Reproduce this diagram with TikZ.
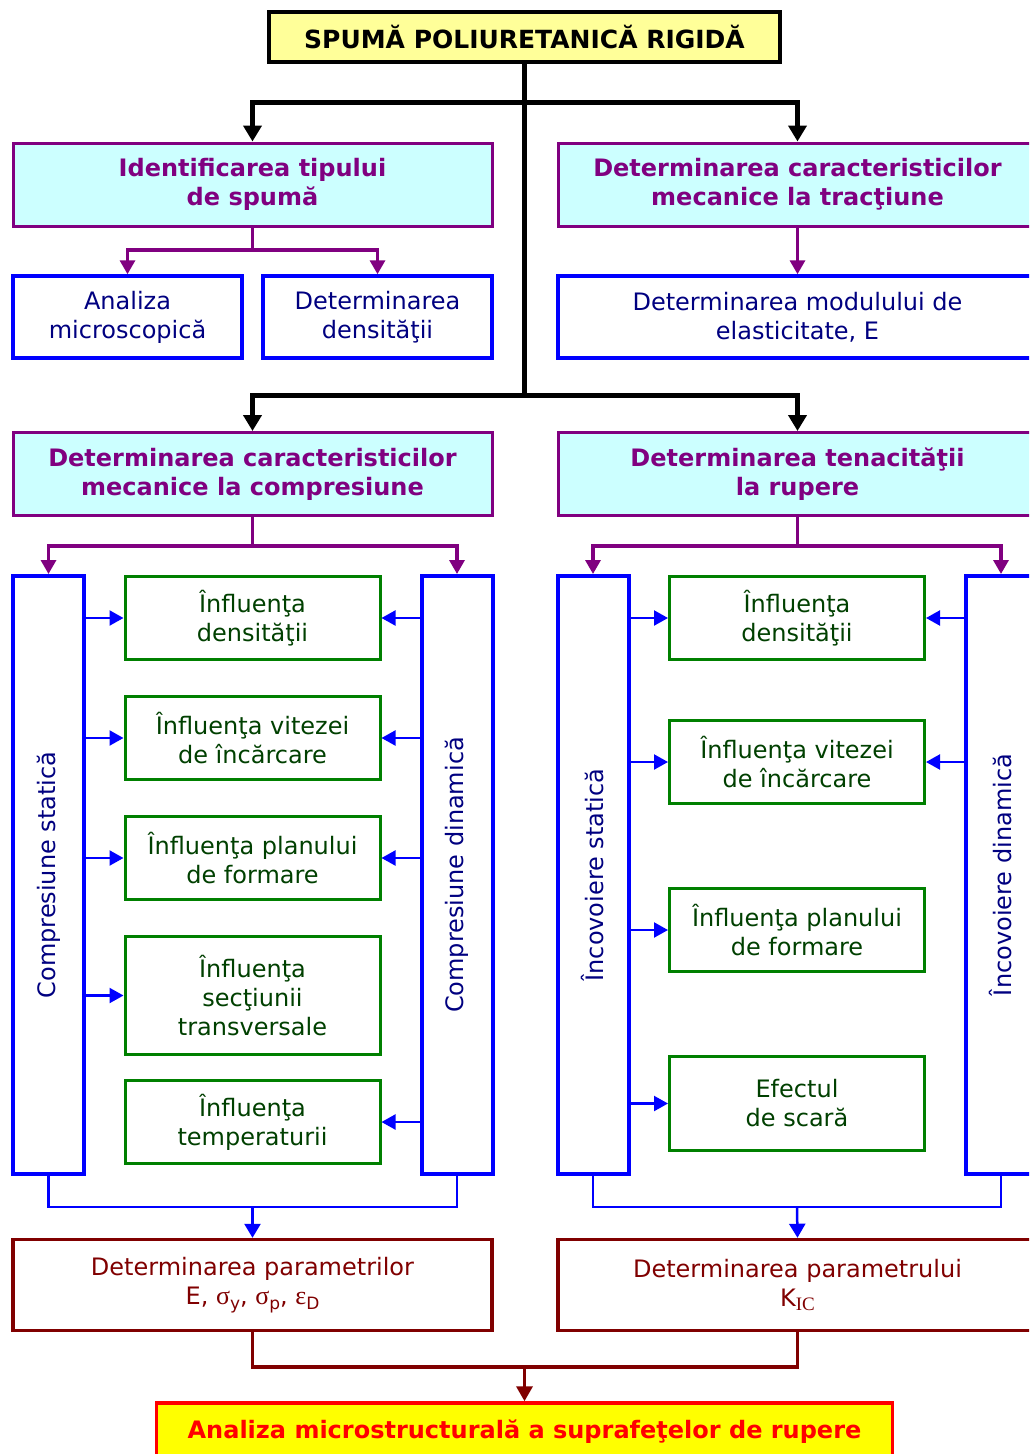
\documentclass[tikz,border=0pt]{standalone}
\usepackage{fontspec}
\setmainfont{DejaVu Sans}
\newfontfamily\grk{Liberation Serif}
\usetikzlibrary{arrows.meta}

\definecolor{purp}{RGB}{128,0,128}
\definecolor{cyanfill}{RGB}{204,255,255}
\definecolor{paleyel}{RGB}{255,255,153}
\definecolor{navytext}{RGB}{0,0,128}
\definecolor{boxgreen}{RGB}{0,128,0}
\definecolor{greentext}{RGB}{0,64,0}
\definecolor{darkred}{RGB}{128,0,0}
\definecolor{pureblue}{RGB}{0,0,255}
\definecolor{pureyel}{RGB}{255,255,0}
\definecolor{purered}{RGB}{255,0,0}

% lowered small index text
\newcommand{\idx}[1]{\raisebox{-0.35ex}{\fontsize{17}{17}\selectfont #1}}

\tikzset{
  txt/.style={font=\fontsize{24}{29}\selectfont},
  txtb/.style={font=\fontsize{24}{29}\selectfont\bfseries},
  base/.style={draw, align=center, inner sep=0pt},
  titlebox/.style={base, font=\fontsize{25}{29}\selectfont\bfseries, fill=paleyel, draw=black, line width=4pt,
    minimum width=511pt, minimum height=50pt},
  headbox/.style={base, txtb, fill=cyanfill, draw=purp, text=purp, line width=3pt,
    minimum width=479pt, minimum height=83pt},
  subbox/.style={base, txt, fill=white, draw=pureblue, text=navytext, line width=3.5pt,
    minimum height=82pt},
  tallbox/.style={base, fill=white, draw=pureblue, line width=4pt,
    minimum width=71pt, minimum height=598pt},
  talltext/.style={txt, text=navytext, rotate=90, inner sep=0pt},
  effbox/.style={base, txt, fill=white, draw=boxgreen, text=greentext, line width=3pt,
    minimum width=255pt, minimum height=83pt},
  resbox/.style={base, txt, fill=white, draw=darkred, text=darkred, line width=3.5pt,
    minimum width=479pt, minimum height=91pt},
  finbox/.style={base, txtb, fill=pureyel, draw=purered, text=purered, line width=3.5pt,
    minimum width=736pt, minimum height=58pt},
  blk/.style={draw=black, line width=5pt},
  blkarr/.style={blk, -{Triangle[length=16pt,width=18pt]}},
  prp/.style={draw=purp, line width=3.3pt},
  prparr/.style={prp, -{Triangle[length=14pt,width=15pt]}},
  bln/.style={draw=pureblue, line width=2.5pt},
  blarr/.style={draw=pureblue, line width=2.2pt, -{Triangle[length=14pt,width=15pt]}},
  blarrb/.style={bln, -{Triangle[length=14pt,width=16pt]}},
  rdl/.style={draw=darkred, line width=3.5pt},
  rdarr/.style={rdl, -{Triangle[length=15pt,width=16pt]}},
}

\begin{document}
\begin{tikzpicture}[x=1pt, y=-1pt, line join=miter]
  \useasboundingbox (0,0) rectangle (1029,1454);
  \clip (0,0) rectangle (1029,1454);
  \fill[white] (0,0) rectangle (1029,1454);

  % top level
  \node[titlebox] (title) at (524.5,37) {SPUMĂ POLIURETANICĂ RIGIDĂ};

  % first row of headings
  \node[headbox] (idf) at (252.5,184.5) {Identificarea tipului\\de spumă};
  \node[headbox] (trac) at (797.5,184.5) {Determinarea caracteristicilor\\mecanice la tracţiune};

  \node[subbox, minimum width=229pt] (anal) at (127.5,317) {Analiza\\microscopică};
  \node[subbox, minimum width=229pt] (dens) at (377.5,317) {Determinarea\\densităţii};
  \node[subbox, minimum width=479pt] (modul) at (797.5,317) {Determinarea modulului de\\elasticitate, E};

  % second row of headings
  \node[headbox] (comp) at (252.5,474) {Determinarea caracteristicilor\\mecanice la compresiune};
  \node[headbox] (ten) at (797.5,474) {Determinarea tenacităţii\\la rupere};

  % compression branch
  \node[tallbox] (cst) at (48.5,875) {};
  \node[talltext] (cstl) at (cst.center) {Compresiune statică};
  \node[tallbox] (cdin) at (457,875) {};
  \node[talltext] (cdinl) at (cdin.center) {Compresiune dinamică};

  \node[effbox] (g1) at (252.5,618) {Înfluenţa\\densităţii};
  \node[effbox] (g2) at (252.5,738) {Înfluenţa vitezei\\de încărcare};
  \node[effbox] (g3) at (252.5,858) {Înfluenţa planului\\de formare};
  \node[effbox, minimum height=118pt] (g4) at (252.5,995.5) {Înfluenţa\\secţiunii\\transversale};
  \node[effbox] (g5) at (252.5,1122) {Înfluenţa\\temperaturii};

  % bending branch
  \node[tallbox] (ist) at (593,875) {};
  \node[talltext] (istl) at (ist.center) {Încovoiere statică};
  \node[tallbox] (idin) at (1001,875) {};
  \node[talltext] (idinl) at (idin.center) {Încovoiere dinamică};

  \node[effbox] (h1) at (797,618) {Înfluenţa\\densităţii};
  \node[effbox] (h2) at (797,762) {Înfluenţa vitezei\\de încărcare};
  \node[effbox] (h3) at (797,930) {Înfluenţa planului\\de formare};
  \node[effbox, minimum height=94pt] (h4) at (797,1103.5) {Efectul\\de scară};

  % results
  \node[resbox] (pl) at (252.5,1285) {Determinarea parametrilor\\E, {\grk\fontsize{26}{29}\selectfont σ}\idx{y}, {\grk\fontsize{26}{29}\selectfont σ}\idx{p}, {\grk\fontsize{26}{29}\selectfont ε}\idx{D}};
  \node[resbox] (pr) at (797.5,1285) {Determinarea parametrului\\K\idx{\grk\fontsize{19}{19}\selectfont IC}};

  \node[finbox] (fin) at (524.5,1432) {Analiza microstructurală a suprafeţelor de rupere};

  % junction points
  \coordinate (j1) at (524.5,102);
  \coordinate (j2) at (524.5,395);
  \coordinate (p1) at (252.5,250);
  \coordinate (p2) at (252.5,546);
  \coordinate (p3) at (797.5,546);
  \coordinate (b1) at (252.5,1207);
  \coordinate (b2) at (797,1207);
  \coordinate (r1) at (524.5,1367);

  % black trunk
  \draw[blk] (title.south) -- (j2);
  \draw[blkarr] (j1) -| (idf.north);
  \draw[blkarr] (j1) -| (trac.north);
  \draw[blkarr] (j2) -| (comp.north);
  \draw[blkarr] (j2) -| (ten.north);

  % purple branches
  \draw[prp] (idf.south) -- (p1);
  \draw[prparr] (p1) -| (anal.north);
  \draw[prparr] (p1) -| (dens.north);
  \draw[prparr] (trac.south) -- (modul.north);
  \draw[prp] (comp.south) -- (p2);
  \draw[prparr] (p2) -| (cst.north);
  \draw[prparr] (p2) -| (cdin.north);
  \draw[prp] (ten.south) -- (p3);
  \draw[prparr] (p3) -| (ist.north);
  \draw[prparr] (p3) -| (idin.north);

  % blue arrows into the influence boxes
  \foreach \g in {g1,g2,g3,g4} \draw[blarr] (\g.west -| cst.east) -- (\g.west);
  \foreach \g in {g1,g2,g3,g5} \draw[blarr] (\g.east -| cdin.west) -- (\g.east);
  \foreach \h in {h1,h2,h3,h4} \draw[blarr] (\h.west -| ist.east) -- (\h.west);
  \foreach \h in {h1,h2} \draw[blarr] (\h.east -| idin.west) -- (\h.east);

  % blue collectors
  \draw[bln] (cst.south) |- (b1) -| (cdin.south);
  \draw[blarrb] (b1) -- (pl.north);
  \draw[bln] (ist.south) |- (b2) -| (idin.south);
  \draw[blarrb] (b2) -- (pr.north);

  % dark red collector
  \draw[rdl] (pl.south) |- (r1) -| (pr.south);
  \draw[rdarr] (r1) -- (fin.north);
\end{tikzpicture}
\end{document}
